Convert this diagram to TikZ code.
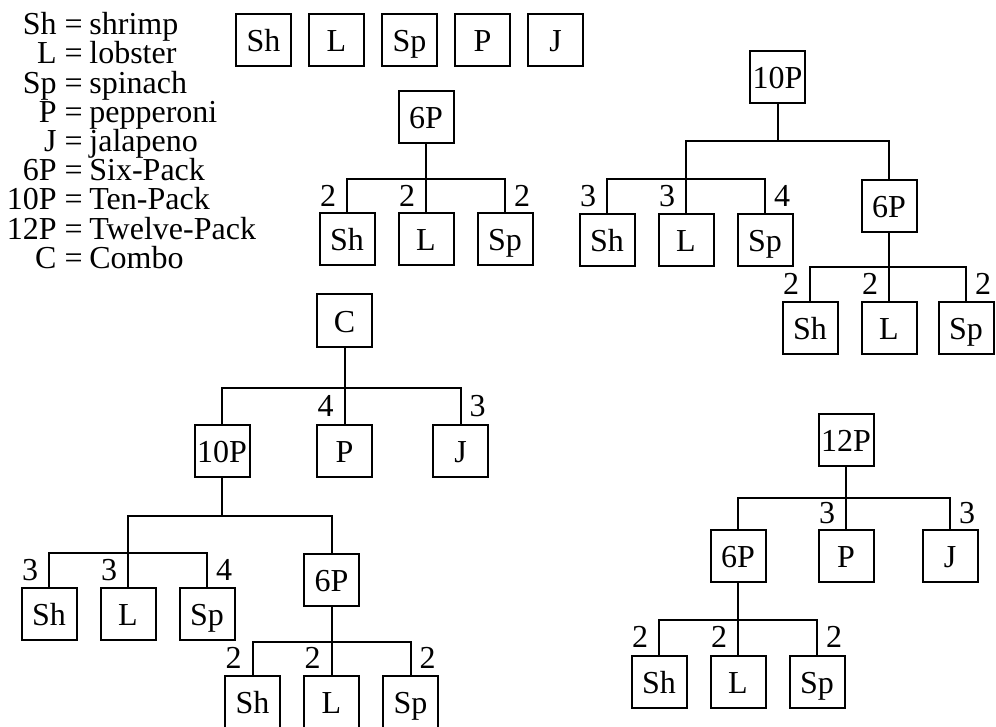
\documentclass[tikz,border=0pt]{standalone}
\usepackage{fontspec}
\setmainfont{Liberation Serif}
\usetikzlibrary{positioning}

\begin{document}
\begin{tikzpicture}[
    x=0.5pt, y=-0.5pt,
    node distance=34pt and 11pt,
    every node/.style={font=\fontsize{16}{14.6}\selectfont},
    item/.style={draw=black, line width=1pt,
      minimum width=27.5pt, minimum height=26pt, inner sep=0pt,
      text height=11.5pt, text depth=0pt},
    qty/.style={inner sep=0pt},
    link/.style={line width=1pt}
  ]
  \useasboundingbox (0,0) rectangle (996,727);

  % key
  \node[anchor=north east, align=right, inner sep=0pt] (keyL) at (83,12)
    {Sh =\\L =\\Sp =\\P =\\J =\\6P =\\10P =\\12P =\\C =};
  \node[anchor=north west, align=left, inner sep=0pt] (keyR) at (89,12)
    {shrimp\\lobster\\spinach\\pepperoni\\jalapeno\\Six-Pack\\Ten-Pack\\Twelve-Pack\\Combo};

  % single items
  \node[item] (sh) at (263.5,40.5) {Sh};
  \node[item, right=8pt of sh] (lob) {L};
  \node[item, right=8pt of lob] (spin) {Sp};
  \node[item, right=8pt of spin] (pep) {P};
  \node[item, right=8pt of pep] (jal) {J};

  % six-pack
  \node[item] (six) at (426,117) {6P};
  \node[item, below=of six] (sixL) {L};
  \node[item, left=of sixL] (sixSh) {Sh};
  \node[item, right=of sixL] (sixSp) {Sp};
  \draw[link] (six.south) -- ++(0,35) -| node[qty, pos=0.75, left=5pt] {2} (sixSh.north);
  \draw[link] (six.south) -- ++(0,35) -| node[qty, pos=0.75, left=5pt] {2} (sixL.north);
  \draw[link] (six.south) -- ++(0,35) -| node[qty, pos=0.75, right=4pt] {2} (sixSp.north);

  % ten-pack
  \node[item] (ten) at (777.5,77) {10P};
  \coordinate (tenJ) at (686,179);
  \node[item] (tenSix) at (889,206) {6P};
  \draw[link] (ten.south) -- ++(0,37) -| (tenJ);
  \draw[link] (ten.south) -- ++(0,37) -| (tenSix.north);
  \node[item, below=17pt of tenJ] (tenL) {L};
  \node[item, left=of tenL] (tenSh) {Sh};
  \node[item, right=of tenL] (tenSp) {Sp};
  \draw[link] (tenJ) -| node[qty, pos=0.75, left=5pt] {3} (tenSh.north);
  \draw[link] (tenJ) -| node[qty, pos=0.75, left=5pt] {3} (tenL.north);
  \draw[link] (tenJ) -| node[qty, pos=0.75, right=4pt] {4} (tenSp.north);
  \node[item, below=of tenSix] (tsL) {L};
  \node[item, left=of tsL] (tsSh) {Sh};
  \node[item, right=10pt of tsL] (tsSp) {Sp};
  \draw[link] (tenSix.south) -- ++(0,34) -| node[qty, pos=0.75, left=5pt] {2} (tsSh.north);
  \draw[link] (tenSix.south) -- ++(0,34) -| node[qty, pos=0.75, left=5pt] {2} (tsL.north);
  \draw[link] (tenSix.south) -- ++(0,34) -| node[qty, pos=0.75, right=4pt] {2} (tsSp.north);

  % combo
  \node[item] (combo) at (344.5,320.5) {C};
  \node[item, below=38pt of combo] (cPep) {P};
  \node[item] (cTen) at (222,451) {10P};
  \node[item] (cJal) at (460.5,451) {J};
  \draw[link] (combo.south) -- ++(0,40) -| (cTen.north);
  \draw[link] (combo.south) -- ++(0,40) -| node[qty, pos=0.75, left=5pt] {4} (cPep.north);
  \draw[link] (combo.south) -- ++(0,40) -| node[qty, pos=0.75, right=4pt] {3} (cJal.north);
  \coordinate (cTenJ) at (128,553);
  \node[item] (cSix) at (331.5,579.5) {6P};
  \draw[link] (cTen.south) -- ++(0,38) -| (cTenJ);
  \draw[link] (cTen.south) -- ++(0,38) -| (cSix.north);
  \node[item, below=17pt of cTenJ] (ctL) {L};
  \node[item, left=of ctL] (ctSh) {Sh};
  \node[item, right=of ctL] (ctSp) {Sp};
  \draw[link] (cTenJ) -| node[qty, pos=0.75, left=5pt] {3} (ctSh.north);
  \draw[link] (cTenJ) -| node[qty, pos=0.75, left=5pt] {3} (ctL.north);
  \draw[link] (cTenJ) -| node[qty, pos=0.75, right=4pt] {4} (ctSp.north);
  \node[item, below=of cSix] (csL) {L};
  \node[item, left=of csL] (csSh) {Sh};
  \node[item, right=of csL] (csSp) {Sp};
  \draw[link] (cSix.south) -- ++(0,35) -| node[qty, pos=0.75, left=5pt] {2} (csSh.north);
  \draw[link] (cSix.south) -- ++(0,35) -| node[qty, pos=0.75, left=5pt] {2} (csL.north);
  \draw[link] (cSix.south) -- ++(0,35) -| node[qty, pos=0.75, right=4pt] {2} (csSp.north);

  % twelve-pack
  \node[item] (twelve) at (846,440) {12P};
  \node[item, below=31pt of twelve] (wPep) {P};
  \node[item] (wSix) at (738,555.5) {6P};
  \node[item] (wJal) at (950,555.5) {J};
  \draw[link] (twelve.south) -- ++(0,31) -| (wSix.north);
  \draw[link] (twelve.south) -- ++(0,31) -| node[qty, pos=0.75, left=5pt] {3} (wPep.north);
  \draw[link] (twelve.south) -- ++(0,31) -| node[qty, pos=0.75, right=4pt] {3} (wJal.north);
  \node[item, below=36pt of wSix] (wsL) {L};
  \node[item, left=of wsL] (wsSh) {Sh};
  \node[item, right=of wsL] (wsSp) {Sp};
  \draw[link] (wSix.south) -- ++(0,37) -| node[qty, pos=0.75, left=5pt] {2} (wsSh.north);
  \draw[link] (wSix.south) -- ++(0,37) -| node[qty, pos=0.75, left=5pt] {2} (wsL.north);
  \draw[link] (wSix.south) -- ++(0,37) -| node[qty, pos=0.75, right=4pt] {2} (wsSp.north);
\end{tikzpicture}
\end{document}
